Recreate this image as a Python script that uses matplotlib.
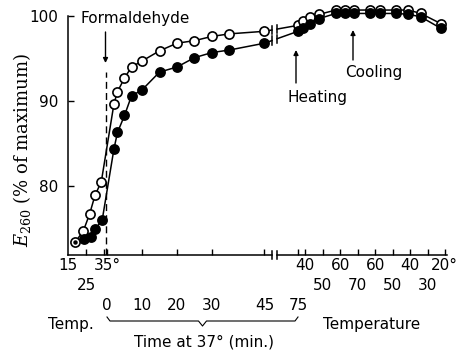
import matplotlib
matplotlib.use('Agg')
import matplotlib.pyplot as plt
import numpy as np

plt.rcParams['mathtext.fontset'] = 'dejavuserif'

# warming of the solution before formaldehyde is added (deg C)
warm_T_open = [19, 23.5, 27, 30, 33.5]
warm_E_open = [73.4, 74.7, 76.7, 78.9, 80.5]
warm_T_closed = [19, 24, 27.5, 30, 34]
warm_E_closed = [73.4, 73.8, 74.0, 74.9, 76.0]

# time at 37 deg after formaldehyde (min.)
times = [2, 3, 5, 7, 10, 15, 20, 25, 30, 35, 45, 75]
time_E_open = [89.7, 91.1, 92.7, 94.0, 94.7, 95.9, 96.8, 97.1, 97.6, 97.9, 98.2, 98.9]
time_E_closed = [84.4, 86.3, 88.3, 90.6, 91.3, 93.4, 94.0, 95.1, 95.7, 96.0, 96.8, 98.2]

# heating then cooling (deg C)
heat_T = [38.5, 43, 48, 57.5, 62.5, 68]
heat_E_open = [99.45, 99.9, 100.2, 100.7, 100.7, 100.7]
heat_E_closed = [98.55, 99.1, 99.7, 100.3, 100.3, 100.3]
cool_T = [63, 57, 48, 41, 34, 22.5]
cool_E_open = [100.7, 100.7, 100.7, 100.7, 100.3, 99.1]
cool_E_closed = [100.3, 100.3, 100.3, 100.2, 99.9, 98.55]

warm_ticks = [15, 25, 35]
time_ticks = [0, 10, 20, 30, 45, 75]
heat_ticks = [40, 50, 60, 70]
cool_ticks = [60, 50, 40, 30, 20]


# piecewise x scale: one segment per stage of the experiment
def x_warm(T):
    return 68 + (np.asarray(T, float) - 15) * 1.8


def x_time(t):
    t = np.asarray(t, float)
    return np.where(t <= 45, 107 + 3.5 * t, 264.5 + (t - 45) * (298 - 264.5) / 30)


def x_heat(T):
    return 300 + (np.asarray(T, float) - 37) * 1.75


def x_cool(T):
    return x_heat(70) + (70 - np.asarray(T, float)) * 1.75


W, H = 460, 352
X0, X1, YTOP, YBOT = 68, 447, 16, 255
BRK0, BRK1 = 272, 277

fig = plt.figure(figsize=(W / 100, H / 100), dpi=100)
ax = fig.add_axes([X0 / W, 1 - YBOT / H, (X1 - X0) / W, (YBOT - YTOP) / H])
ax.set_xlim(X0, X1)
ymin = 100 - (YBOT - YTOP) / 8.5
ax.set_ylim(ymin, 100)

sans = 'DejaVu Sans'
fs = 11


def ay(ypix):
    # pixel row below/above the x axis -> axes fraction
    return (YBOT - ypix) / (YBOT - YTOP)


def ey(ypix):
    # pixel row inside the plot -> E260 value
    return 100 - (ypix - YTOP) / 8.5


xt = ax.get_xaxis_transform()

for Tw, Ew, Et, He, Ce, face, z in [
        (warm_T_open, warm_E_open, time_E_open, heat_E_open, cool_E_open, 'white', 3),
        (warm_T_closed, warm_E_closed, time_E_closed, heat_E_closed, cool_E_closed, 'black', 4)]:
    xs = np.concatenate([x_warm(Tw), x_time(times), x_heat(heat_T), x_cool(cool_T)])
    ys = np.concatenate([Ew, Et, He, Ce])
    # line with a break between 45 and 75 min
    i45 = len(Tw) + times.index(45)
    yb0 = np.interp(BRK0, xs[i45:i45 + 2], ys[i45:i45 + 2])
    yb1 = np.interp(BRK1, xs[i45:i45 + 2], ys[i45:i45 + 2])
    ax.plot(np.append(xs[:i45 + 1], BRK0), np.append(ys[:i45 + 1], yb0),
            color='black', lw=1.1, zorder=2, clip_on=False)
    ax.plot(np.insert(xs[i45 + 1:], 0, BRK1), np.insert(ys[i45 + 1:], 0, yb1),
            color='black', lw=1.1, zorder=2, clip_on=False)
    for bx, by in [(BRK0, yb0), (BRK1, yb1)]:
        ax.plot([bx, bx], [by - 0.5, by + 0.5], color='black', lw=1.1, clip_on=False)
    start = 1 if face == 'black' else 0
    ax.plot(xs[start:], ys[start:], 'o', ms=6.6, mfc=face, mec='black', mew=1.2,
            zorder=z, clip_on=False)

# shared starting point
ax.plot(x_warm(warm_T_open[0]), warm_E_open[0], 'o', ms=2.2, color='black', zorder=5)

# x axis drawn by hand so it can carry the break
ax.spines[['top', 'right', 'bottom']].set_visible(False)
ax.spines['left'].set_linewidth(1.1)
ax.plot([X0, BRK0], [0, 0], transform=xt, color='black', lw=1.1, clip_on=False)
ax.plot([BRK1, X1], [0, 0], transform=xt, color='black', lw=1.1, clip_on=False)
for bx in (BRK0, BRK1):
    ax.plot([bx, bx], [ay(YBOT + 4), ay(YBOT - 4)], transform=xt,
            color='black', lw=1.1, clip_on=False)

tick_x = np.concatenate([x_warm(warm_ticks[1:]), x_time(time_ticks),
                         x_heat(heat_ticks), x_cool(cool_ticks)])
ax.set_xticks(tick_x)
ax.set_xticklabels([])
ax.tick_params(axis='x', direction='in', length=4.5, width=1.0, bottom=True)
ax.set_yticks([80, 90, 100])
ax.set_yticklabels(['80', '90', '100'], fontfamily=sans, fontsize=fs)
ax.tick_params(axis='y', direction='in', length=4.5, width=1.0, pad=7)


def tlabel(x, row_y, s):
    ax.text(x, ay(row_y), s, transform=xt, ha='center', va='center',
            fontfamily=sans, fontsize=fs, clip_on=False)


# three rows of tick labels
tlabel(x_warm(15), 266, '15')
tlabel(x_warm(25), 285, '25')
tlabel(x_warm(35) + 3, 266, '35°')
for t in time_ticks:
    tlabel(float(x_time(t)), 306, str(t))
for i, T in enumerate(heat_ticks):
    tlabel(float(x_heat(T)), 266 if i % 2 == 0 else 285, str(T))
for i, T in enumerate(cool_ticks):
    s = f'{T}°' if T == cool_ticks[-1] else str(T)
    tlabel(float(x_cool(T)) - (1 if T == 20 else 0), 266 if i % 2 == 0 else 285, s)

# brace under the time scale
bx0, bx1 = float(x_time(0)), float(x_time(75))
bm = (bx0 + bx1) / 2
brace_x = [bx0, bx0 + 3, bm - 4, bm, bm + 4, bx1 - 3, bx1]
brace_y = [317, 321, 321, 326, 321, 321, 317]
ax.plot(brace_x, [ay(v) for v in brace_y], transform=xt, color='black', lw=0.8,
        clip_on=False)

ax.text(48, ay(324), 'Temp.', transform=xt, ha='left', va='center',
        fontfamily=sans, fontsize=fs)
ax.text(bm + 2, ay(342), 'Time at 37° (min.)', transform=xt, ha='center', va='center',
        fontfamily=sans, fontsize=fs)
ax.text(323, ay(325), 'Temperature', transform=xt, ha='left', va='center',
        fontfamily=sans, fontsize=fs)

# formaldehyde addition
fx = float(x_time(0)) - 0.5
ax.plot([fx, fx], [ymin, ey(72)], color='black', lw=1.0, ls=(0, (5, 3)), zorder=1)
ax.annotate('', xy=(fx - 1, ey(63)), xytext=(fx - 1, ey(32)),
            arrowprops=dict(arrowstyle='-|>', color='black', lw=1.0,
                            mutation_scale=7, shrinkA=0, shrinkB=0),
            annotation_clip=False)
ax.text(80, ey(18), 'Formaldehyde', ha='left', va='center',
        fontfamily=sans, fontsize=fs, clip_on=False)

# heating / cooling markers
for xa, tip, tail, label, lx, ly in [(296, 50, 83, 'Heating', 288, 97),
                                     (353, 30, 60, 'Cooling', 345, 72)]:
    ax.annotate('', xy=(xa, ey(tip)), xytext=(xa, ey(tail)),
                arrowprops=dict(arrowstyle='-|>', color='black', lw=1.0,
                                mutation_scale=7, shrinkA=0, shrinkB=0))
    ax.text(lx, ey(ly), label, ha='left', va='center', fontfamily=sans, fontsize=fs)

fig.text(22 / W, 1 - 150 / H, r'$E_{260}$ (% of maximum)', rotation=90,
         ha='center', va='center', fontfamily='DejaVu Serif', fontsize=13)

fig.savefig('out.png', dpi=100)
